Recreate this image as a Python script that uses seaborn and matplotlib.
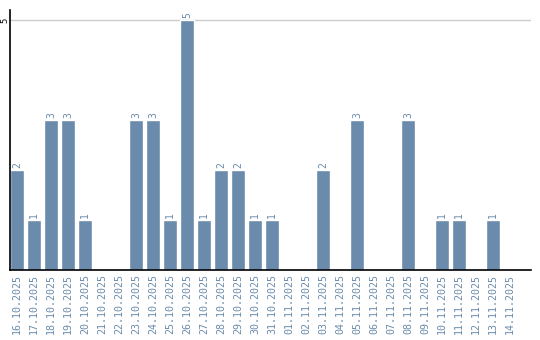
import matplotlib
matplotlib.use("Agg")
import matplotlib.pyplot as plt
import seaborn as sns
import pandas as pd

dates = ["16.10.2025", "17.10.2025", "18.10.2025", "19.10.2025", "20.10.2025",
         "21.10.2025", "22.10.2025", "23.10.2025", "24.10.2025", "25.10.2025",
         "26.10.2025", "27.10.2025", "28.10.2025", "29.10.2025", "30.10.2025",
         "31.10.2025", "01.11.2025", "02.11.2025", "03.11.2025", "04.11.2025",
         "05.11.2025", "06.11.2025", "07.11.2025", "08.11.2025", "09.11.2025",
         "10.11.2025", "11.11.2025", "12.11.2025", "13.11.2025", "14.11.2025"]
counts = [2, 1, 3, 3, 1, 0, 0, 3, 3, 1,
          5, 1, 2, 2, 1, 1, 0, 0, 2, 0,
          3, 0, 0, 3, 0, 1, 1, 0, 1, 0]

bar_color = "#6a8bab"
text_color = "#6a8bab"

df = pd.DataFrame({"date": dates, "count": counts})

sns.set_style("white")
fig = plt.figure(figsize=(5.4, 3.4), dpi=100)
ax = fig.add_axes([10/540, 70/340, 521/540, 260/340])

sns.barplot(data=df, x="date", y="count", color=bar_color, saturation=1,
            width=0.82, ax=ax)

ax.set_xlim(-0.41, 30.24)
ax.set_ylim(0, 5.2)
ax.set_yticks([5])
ax.set_yticklabels(["5"], rotation=90, va="center", fontsize=6.5,
                   family="DejaVu Sans Mono", color="#000000")
ax.tick_params(axis="y", length=0, pad=0.5)
ax.axhline(5, color="#cccccc", lw=1, zorder=0)

ax.set_xticks(range(len(dates)))
ax.set_xticklabels(dates, rotation=90, fontsize=7.2, family="DejaVu Sans Mono",
                   color=text_color)
ax.tick_params(axis="x", length=0, pad=3)
ax.set_xlabel("")
ax.set_ylabel("")

for i, v in enumerate(counts):
    if v > 0:
        ax.text(i, v + 0.04, str(v), rotation=90, ha="center", va="bottom",
                fontsize=7, family="DejaVu Sans Mono", color=text_color)

for s in ["top", "right"]:
    ax.spines[s].set_visible(False)
for s in ["left", "bottom"]:
    ax.spines[s].set_color("black")
    ax.spines[s].set_linewidth(1.2)

fig.savefig("out.png", dpi=100)
